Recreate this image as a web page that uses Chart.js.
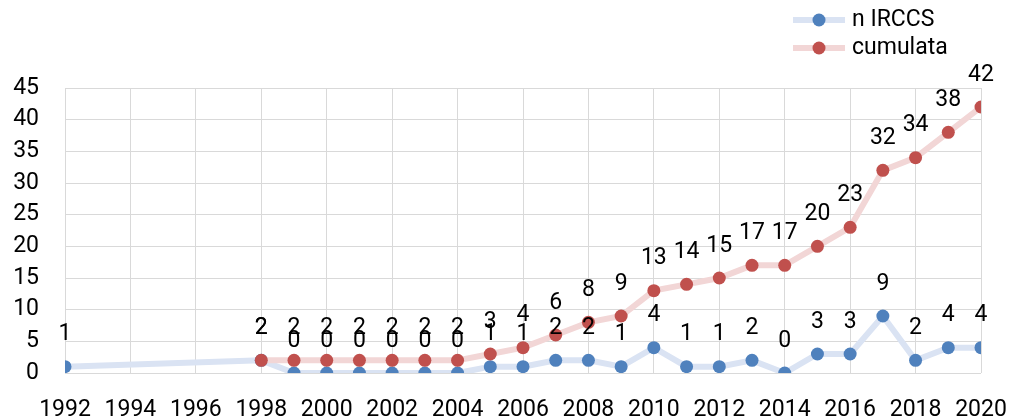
<!DOCTYPE html>
<html>
<head>
<meta charset="utf-8">
<script src="https://cdn.jsdelivr.net/npm/chart.js@4"></script>
<style>
  html, body { margin: 0; padding: 0; background: #fff; }
  #wrap { width: 1013px; height: 420px; position: relative; }
</style>
</head>
<body>
<div id="wrap"><canvas id="chart"></canvas></div>
<script>
// data
const years = [1992, 1998, 1999, 2000, 2001, 2002, 2003, 2004, 2005, 2006, 2007, 2008,
               2009, 2010, 2011, 2012, 2013, 2014, 2015, 2016, 2017, 2018, 2019, 2020];
const nIrccs = [1, 2, 0, 0, 0, 0, 0, 0, 1, 1, 2, 2, 1, 4, 1, 1, 2, 0, 3, 3, 9, 2, 4, 4];
const cumulata = [null, 2, 2, 2, 2, 2, 2, 2, 3, 4, 6, 8, 9, 13, 14, 15, 17, 17, 20, 23, 32, 34, 38, 42];
const seriesNames = ["n IRCCS", "cumulata"];

const FONT = "Roboto, 'DejaVu Sans', sans-serif";
const FONT_SIZE = 23;
const blue = "#4f81bd", blueLine = "#dae3f3";
const red = "#c0504d", redLine = "#f2d6d6";

function toPoints(vals){
  const out = [];
  vals.forEach((v, i) => { if (v !== null) out.push({ x: years[i], y: v }); });
  return out;
}

// value labels above every point
const valueLabels = {
  id: "valueLabels",
  afterDatasetsDraw(chart){
    const ctx = chart.ctx;
    ctx.save();
    ctx.font = FONT_SIZE + "px " + FONT;
    ctx.fillStyle = "#000";
    ctx.textAlign = "center";
    ctx.textBaseline = "middle";
    chart.data.datasets.forEach((ds, i) => {
      const meta = chart.getDatasetMeta(i);
      meta.data.forEach((pt, j) => {
        ctx.fillText(String(ds.data[j].y), pt.x, pt.y - 32);
      });
    });
    ctx.restore();
  }
};

// stacked legend in the top right corner
const stackedLegend = {
  id: "stackedLegend",
  afterDraw(chart){
    const ctx = chart.ctx;
    ctx.save();
    ctx.font = FONT_SIZE + "px " + FONT;
    ctx.textBaseline = "middle";
    chart.data.datasets.forEach((ds, i) => {
      const y = 20 + i * 28;
      ctx.strokeStyle = ds.borderColor;
      ctx.lineWidth = 6;
      ctx.beginPath(); ctx.moveTo(793, y); ctx.lineTo(845, y); ctx.stroke();
      ctx.fillStyle = ds.pointBackgroundColor;
      ctx.beginPath(); ctx.arc(819, y, 6.5, 0, Math.PI * 2); ctx.fill();
      ctx.fillStyle = "#000";
      ctx.fillText(ds.label, 852, y);
    });
    ctx.restore();
  }
};

new Chart(document.getElementById("chart"), {
  type: "line",
  data: {
    datasets: [
      { label: seriesNames[0], data: toPoints(nIrccs), order: 1,
        borderColor: blueLine, borderWidth: 6, pointBackgroundColor: blue,
        pointBorderWidth: 0, pointRadius: 6.5, tension: 0 },
      { label: seriesNames[1], data: toPoints(cumulata), order: 0,
        borderColor: redLine, borderWidth: 6, pointBackgroundColor: red,
        pointBorderWidth: 0, pointRadius: 6.5, tension: 0 }
    ]
  },
  options: {
    responsive: true,
    maintainAspectRatio: false,
    animation: false,
    layout: { padding: { top: 88, right: 0, left: 0, bottom: 0 } },
    plugins: { legend: { display: false }, tooltip: { enabled: false } },
    scales: {
      x: {
        type: "linear", min: 1992, max: 2020,
        ticks: { stepSize: 2, color: "#000", padding: 23, maxRotation: 0,
                 font: { family: FONT, size: FONT_SIZE }, callback: v => String(v) },
        grid: { color: "#d9d9d9", lineWidth: 1, drawTicks: false },
        border: { display: false },
        afterFit(s){ s.height = 47; s.paddingRight = 32; }
      },
      y: {
        min: 0, max: 45,
        ticks: { stepSize: 5, color: "#000", padding: 26,
                 font: { family: FONT, size: FONT_SIZE } },
        grid: { color: "#d9d9d9", lineWidth: 1, drawTicks: false },
        border: { display: false },
        afterFit(s){ s.width = 65; }
      }
    }
  },
  plugins: [valueLabels, stackedLegend]
});
</script>
</body>
</html>
